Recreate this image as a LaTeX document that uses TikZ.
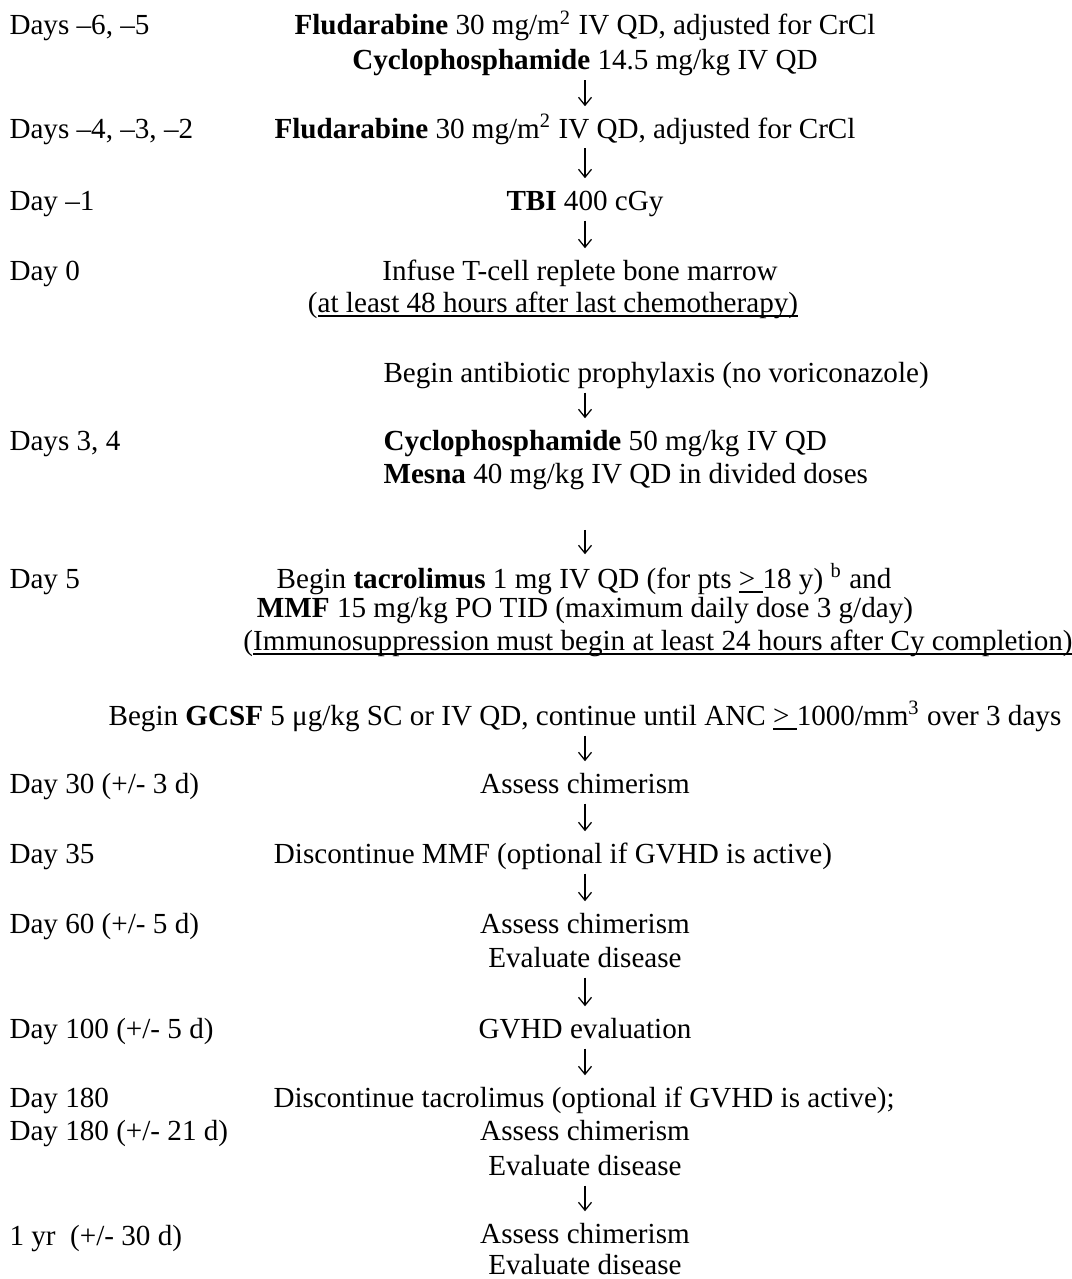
\documentclass[tikz,border=0pt]{standalone}
\usepackage{fontspec}
\setmainfont{Liberation Serif}
\usetikzlibrary{arrows.meta}
\newcommand{\undl}[1]{\setbox0\hbox{#1}\rlap{\rule[-1.9pt]{\wd0}{0.55pt}}\box0\relax}

\begin{document}
\begin{tikzpicture}[
			x=0.4pt, y=-0.4pt,
			every node/.style={font=\fontsize{11.65}{14}\selectfont, inner sep=0pt, text height=8.5pt, text depth=2.5pt},
			day/.style={anchor=base west},
			dose/.style={anchor=base},
			doseL/.style={anchor=base west},
			flow/.style={-{Straight Barb[length=3.2pt,width=5.2pt]}, line width=0.5pt, shorten <=1.5pt, shorten >=4pt},
			]
			\useasboundingbox (0,0) rectangle (1072,1279);
			\coordinate (Col) at (585,0);
			
			% Tage
			\node[day] (DayA) at (9,35) {Days –6, –5};
			\node[day] (DayB) at (9,138) {Days –4, –3, –2};
			\node[day] (DayC) at (9,210) {Day –1};
			\node[day] (DayD) at (9,280) {Day 0};
			\node[day] (DayE) at (9,450) {Days 3, 4};
			\node[day] (DayF) at (9,588) {Day 5};
			\node[day] (DayG) at (9,793) {Day 30 (+/- 3 d)};
			\node[day] (DayH) at (9,863) {Day 35};
			\node[day] (DayI) at (9,933) {Day 60 (+/- 5 d)};
			\node[day] (DayJ) at (9,1038) {Day 100 (+/- 5 d)};
			\node[day] (DayK) at (9,1107) {Day 180};
			\node[day] (DayL) at (9,1140) {Day 180 (+/- 21 d)};
			\node[day] (DayM) at (9,1245) {1 yr\ \ (+/- 30 d)};
			
			% Behandlung
			\node[dose] (FluA) at (585,35) {\textbf{Fludarabine} 30 mg/m\textsuperscript{2} IV QD, adjusted for CrCl};
			\node[dose] (CycA) at (585,70) {\textbf{Cyclophosphamide} 14.5 mg/kg IV QD};
			\node[dose] (FluB) at (565,138) {\textbf{Fludarabine} 30 mg/m\textsuperscript{2} IV QD, adjusted for CrCl};
			\node[dose] (TBI) at (585,210) {\textbf{TBI} 400 cGy};
			\node[dose] (Infuse) at (580,280) {Infuse T-cell replete bone marrow};
			\node[dose] (InfuseNote) at (553,312) {(\undl{at least 48 hours after last chemotherapy)}};
			\node[doseL] (Antibiotic) at (383,382) {Begin antibiotic prophylaxis (no voriconazole)};
			\node[doseL] (CycB) at (383,450) {\textbf{Cyclophosphamide} 50 mg/kg IV QD};
			\node[doseL] (Mesna) at (383,483) {\textbf{Mesna} 40 mg/kg IV QD in divided doses};
			\node[dose] (Tacro) at (584,588) {Begin \textbf{tacrolimus} 1 mg IV QD (for pts \undl{>\ }18 y) \textsuperscript{b} and};
			\node[dose] (MMF) at (585,617) {\textbf{MMF} 15 mg/kg PO TID (maximum daily dose 3 g/day)};
			\node[dose] (ImmunoNote) at (658,650) {(\undl{Immunosuppression must begin at least 24 hours after Cy completion)}};
			\node[dose] (GCSF) at (585,725) {Begin \textbf{GCSF} 5 μg/kg SC or IV QD, continue until ANC \undl{>\ }1000/mm\textsuperscript{3} over 3 days};
			\node[dose] (ChimA) at (585,793) {Assess chimerism};
			\node[dose] (StopMMF) at (553,863) {Discontinue MMF (optional if GVHD is active)};
			\node[dose] (ChimB) at (585,933) {Assess chimerism};
			\node[dose] (EvalB) at (585,967) {Evaluate disease};
			\node[dose] (GVHD) at (585,1038) {GVHD evaluation};
			\node[doseL] (StopTacro) at (273,1107) {Discontinue tacrolimus (optional if GVHD is active);};
			\node[dose] (ChimC) at (585,1140) {Assess chimerism};
			\node[dose] (EvalC) at (585,1175) {Evaluate disease};
			\node[dose] (ChimD) at (585,1243) {Assess chimerism};
			\node[dose] (EvalD) at (585,1274) {Evaluate disease};
			
			% Pfeile
			\draw[flow] (CycA.south -| Col) -- (FluB.north -| Col);
			\draw[flow] (FluB.south -| Col) -- (TBI.north -| Col);
			\draw[flow] (TBI.south -| Col) -- (Infuse.north -| Col);
			\draw[flow] (Antibiotic.south -| Col) -- (CycB.north -| Col);
			\draw[flow, shorten <=16pt, shorten >=4.8pt] (Mesna.south -| Col) -- (Tacro.north -| Col);
			\draw[flow] (GCSF.south -| Col) -- (ChimA.north -| Col);
			\draw[flow] (ChimA.south -| Col) -- (StopMMF.north -| Col);
			\draw[flow] (StopMMF.south -| Col) -- (ChimB.north -| Col);
			\draw[flow] (EvalB.south -| Col) -- (GVHD.north -| Col);
			\draw[flow] (GVHD.south -| Col) -- (StopTacro.north -| Col);
			\draw[flow] (EvalC.south -| Col) -- (ChimD.north -| Col);
			
		\end{tikzpicture}
\end{document}
